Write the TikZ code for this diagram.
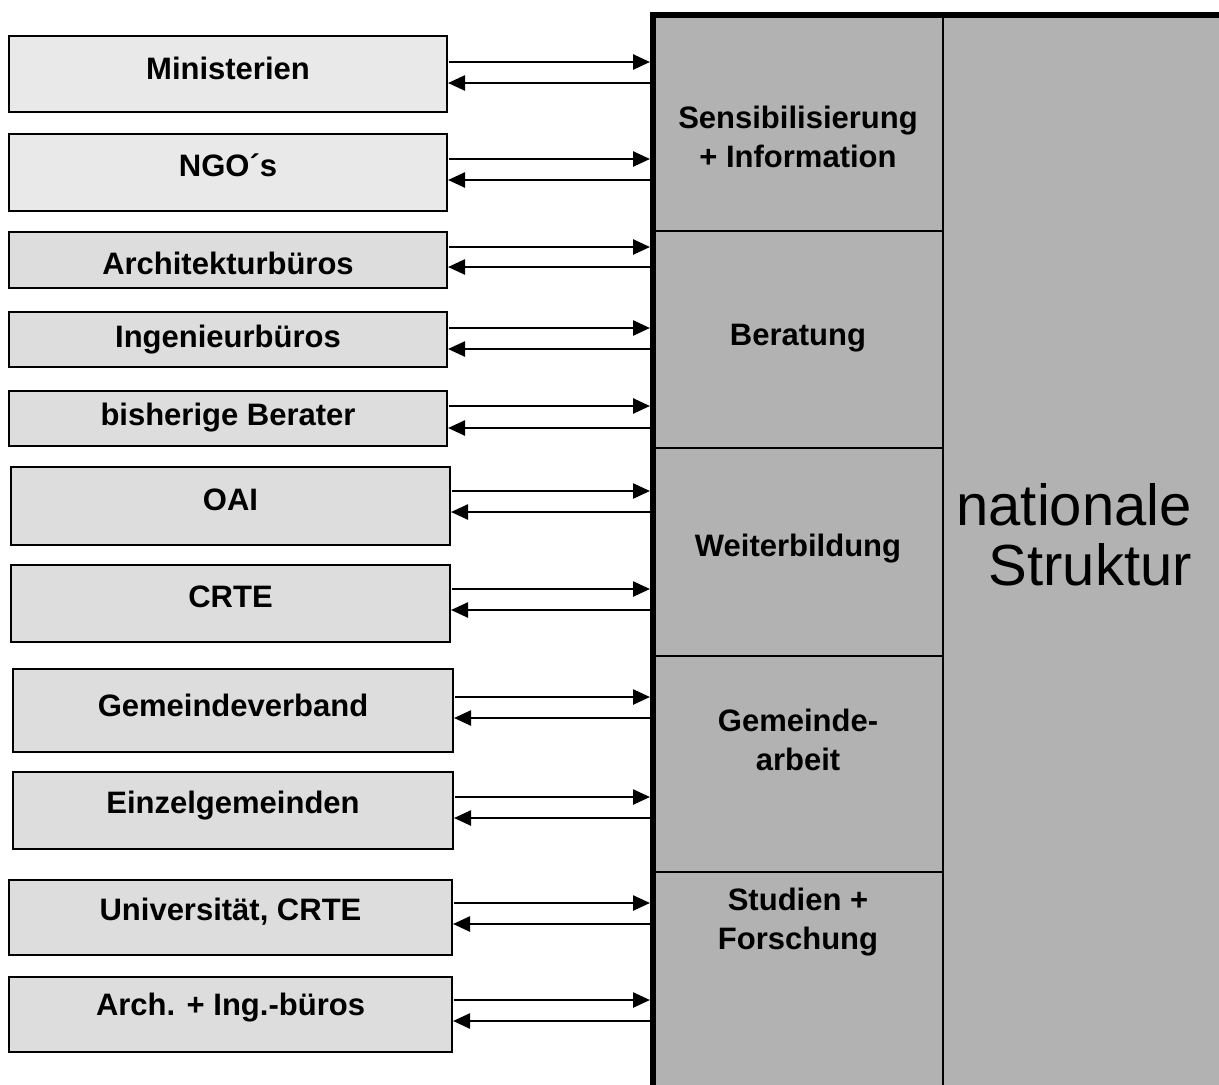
\documentclass[tikz,border=0pt]{standalone}
\usepackage{fontspec}
\setmainfont{Liberation Sans}
\usetikzlibrary{arrows.meta}
\definecolor{boxA}{HTML}{E9E9E9}
\definecolor{boxB}{HTML}{DDDDDD}
\definecolor{structgray}{HTML}{B2B2B2}
\begin{document}
\begin{tikzpicture}[x=1pt,y=-1pt,
  lbox/.style={draw=black, line width=1.8pt, inner sep=0pt, outer sep=0pt},
  lbl/.style={font=\fontsize{31}{36}\selectfont\bfseries, inner sep=0pt},
  cell/.style={draw=black, line width=1.8pt, fill=structgray, inner sep=0pt, outer sep=0pt},
  ctext/.style={font=\fontsize{31}{39}\selectfont\bfseries, align=center, inner sep=0pt},
  arr/.style={line width=2.5pt, -{Triangle[length=17pt,width=15pt]}}
]
\useasboundingbox (0,0) rectangle (1219,1085);
\clip (0,0) rectangle (1219,1085);

% national structure
\fill[structgray] (653,15) rectangle (1230,1100);
\node[cell, minimum width=290pt, minimum height=216pt, anchor=north west] (sens) at (653,15) {};
\node[cell, minimum width=290pt, minimum height=217pt, anchor=north west] (ber) at (653,231) {};
\node[cell, minimum width=290pt, minimum height=208pt, anchor=north west] (weit) at (653,448) {};
\node[cell, minimum width=290pt, minimum height=216pt, anchor=north west] (gem) at (653,656) {};
\node[cell, minimum width=290pt, minimum height=228pt, anchor=north west] (stud) at (653,872) {};
\node[cell, minimum width=287pt, minimum height=1085pt, anchor=north west] (nat) at (943,15) {};
\draw[line width=6.5pt, line join=miter] (1230,15) -- (653,15) -- (653,1100);

\node[ctext] (sens-t) at (798,137) {Sensibilisierung\\+ Information};
\node[ctext] (ber-t) at (798,338) {Beratung};
\node[ctext] (weit-t) at (798,549) {Weiterbildung};
\node[ctext] (gem-t) at (798,740) {Gemeinde-\\arbeit};
\node[ctext] (stud-t) at (798,922) {Studien +\\Forschung};
\node[font=\fontsize{58}{60}\selectfont, align=right, anchor=east, inner sep=0pt] (nat-t) at (1192,535) {nationale\\Struktur};

% partner boxes
\foreach \n/\x/\y/\w/\h/\f/\ty/\t/\da/\db in {
  m/9/36/438/76/boxA/68/Ministerien/26/47,
  ngo/9/134/438/77/boxA/165/NGO´s/25/46,
  arch/9/232/438/56/boxB/263/Architekturbüros/15/35,
  ing/9/312/438/55/boxB/340/Ingenieurbüros/16/37,
  bis/9/391/438/55/boxB/418/bisherige Berater/15/37,
  oai/11/467/439/78/boxB/500/OAI/24/45,
  crte/11/565/439/77/boxB/597/CRTE/24/45,
  gv/13/669/440/83/boxB/705/Gemeindeverband/28/49,
  eg/13/772/440/77/boxB/806/Einzelgemeinden/25/46,
  uni/9/880/443/75/boxB/912/{Universität, CRTE}/23/44,
  ai/9/977/443/75/boxB/1008/{Arch. + Ing.-büros}/23/44}
{
  \node[lbox, fill=\f, minimum width=\w pt, minimum height=\h pt, anchor=north west] (\n) at (\x,\y) {};
  \node[lbl] (\n-t) at (\x+\w/2,\ty) {\t};
  \path ([yshift=-\da pt]\n.north east) coordinate (\n-a)
        ([yshift=-\db pt]\n.north east) coordinate (\n-b);
  \draw[arr, shorten <=2pt, shorten >=3pt] (\n-a) -- (\n-a -| sens.west);
  \draw[arr, shorten <=3pt, shorten >=1pt] (\n-b -| sens.west) -- (\n-b);
}
\end{tikzpicture}
\end{document}
